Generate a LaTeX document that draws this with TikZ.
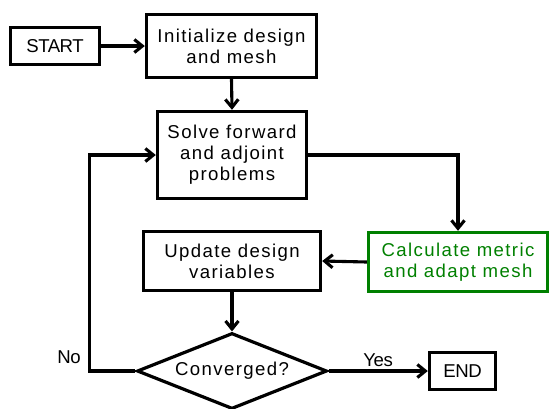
\documentclass[tikz,border=0pt]{standalone}
\usepackage{fontspec}
\setmainfont{Liberation Sans}
\newfontfamily\boxfont[LetterSpace=7.5]{Liberation Sans}
\newfontfamily\tightfont[LetterSpace=-2.5]{Liberation Sans}
\usetikzlibrary{shapes.geometric,arrows.meta}
\definecolor{stepgreen}{RGB}{0,128,0}

\begin{document}
\begin{tikzpicture}[x=1pt,y=-1pt,
  every node/.style={font=\tightfont\fontsize{18.6}{21}\selectfont},
  box/.style={draw,line width=3.4pt,align=center,inner sep=0pt,
    font=\boxfont\fontsize{18.6}{21}\selectfont},
  term/.style={draw,line width=3.4pt,align=center,inner sep=0pt},
  decision/.style={draw,diamond,line width=3.2pt,inner sep=0pt,
    minimum width=190pt,minimum height=76pt,aspect=2.5,
    font=\boxfont\fontsize{18.6}{21}\selectfont},
  conn/.style={line width=3.1pt,-{Straight Barb[length=8pt,width=13pt,line width=3.1pt]}}]
  \useasboundingbox (0,0) rectangle (551,408);

  \node[term,minimum width=89pt,minimum height=37pt] (start) at (55,46) {START};
  \node[box,minimum width=170pt,minimum height=63pt] (init) at (231.5,46) {Initialize design\\and mesh};
  \node[box,minimum width=149pt,minimum height=87pt] (solve) at (232,155) {Solve forward\\and adjoint\\problems};
  \node[box,draw=stepgreen,text=stepgreen,minimum width=179pt,minimum height=59pt] (adapt) at (458,262) {Calculate metric\\and adapt mesh};
  \node[box,minimum width=177pt,minimum height=59pt] (update) at (232,261) {Update design\\variables};
  \node[decision] (conv) at (232,371) {Converged?};
  \node[term,minimum width=66pt,minimum height=37pt] (end) at (462.5,371) {END};

  \draw[conn] (start.east) -- (init.west);
  \draw[conn] (init.south) -- (solve.north);
  \draw[conn] (solve.east) -| (adapt.north);
  \draw[conn] (adapt.west) -- (update.east);
  \draw[conn] (update.south) -- (conv.north);
  \draw[conn] (conv.west) -- ++(-46,0) |- (solve.west);
  \draw[conn] (conv.east) -- node[above=3pt,inner sep=0pt] (yes) {Yes} (end.west);
  \node (no) at (69,357) {No};
\end{tikzpicture}
\end{document}
